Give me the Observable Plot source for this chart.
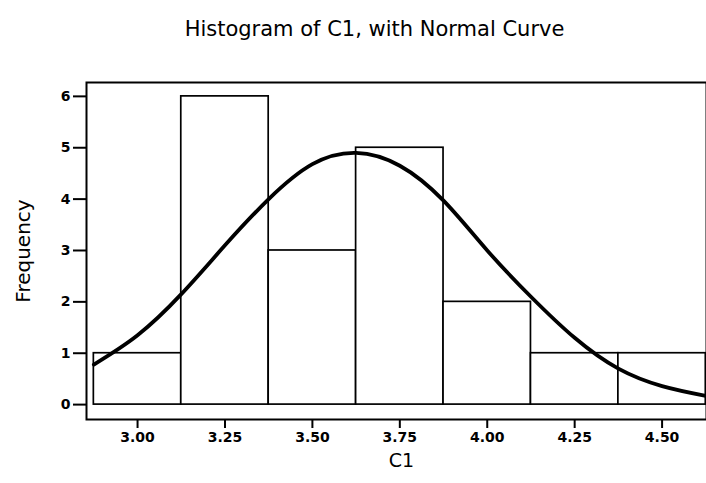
<!DOCTYPE html>
<html>
<head>
<meta charset="utf-8">
<script src="https://cdn.jsdelivr.net/npm/d3@7"></script>
<script src="https://cdn.jsdelivr.net/npm/@observablehq/plot@0.6"></script>
<style>
  html, body { margin: 0; padding: 0; background: #fff; }
  svg { display: block; }
</style>
</head>
<body>
<div id="chart"></div>
<script>
// Histogram bins (C1)
const binStart = [2.875, 3.125, 3.375, 3.625, 3.875, 4.125, 4.375];
const binEnd   = [3.125, 3.375, 3.625, 3.875, 4.125, 4.375, 4.625];
const counts   = [1, 6, 3, 5, 2, 1, 1];

// Normal curve
const curveX = [2.875, 3.0, 3.125, 3.25, 3.375, 3.5, 3.625, 3.75, 3.875, 4.0, 4.125, 4.25, 4.375, 4.5, 4.625];
const curveY = [0.78, 1.35, 2.15, 3.1, 4.0, 4.68, 4.9, 4.65, 3.97, 3.0, 2.1, 1.3, 0.7, 0.36, 0.17];

const xTicks = [3.00, 3.25, 3.50, 3.75, 4.00, 4.25, 4.50];
const yTicks = [0, 1, 2, 3, 4, 5, 6];

const titleText = "Histogram of C1, with Normal Curve";
const xLabel = "C1";
const yLabel = "Frequency";

const bins = binStart.map((s, i) => ({x1: s, x2: binEnd[i], count: counts[i]}));
const curve = curveX.map((x, i) => ({x, y: curveY[i]}));

const font = "'DejaVu Sans', Verdana, sans-serif";

const chart = Plot.plot({
  width: 706,
  height: 483,
  marginLeft: 86,
  marginRight: 0,
  marginTop: 82,
  marginBottom: 64,
  style: {fontFamily: font, fontSize: "14px", color: "#000", background: "#fff"},
  x: {domain: [2.854, 4.627]},
  y: {domain: [-0.29, 6.27]},
  marks: [
    Plot.rectY(bins, {x1: "x1", x2: "x2", y: "count", fill: "white", stroke: "black", strokeWidth: 1.7}),
    Plot.line(curve, {x: "x", y: "y", curve: "natural", stroke: "black", strokeWidth: 3.8}),
    Plot.frame({stroke: "black", strokeWidth: 2}),
    Plot.axisX({ticks: xTicks, tickFormat: d => d.toFixed(2), tickSize: 9, tickPadding: 4, label: null, strokeWidth: 2, fontSize: 14, fontWeight: "bold", fill: "black"}),
    Plot.axisY({ticks: yTicks, tickFormat: d => String(d), tickSize: 13, tickPadding: 3, label: null, strokeWidth: 2, fontSize: 14, fontWeight: "bold", fill: "black"}),
    Plot.text([titleText], {frameAnchor: "top", dx: -22, dy: -61, fontSize: 21, fill: "black"}),
    Plot.text([yLabel], {frameAnchor: "left", textAnchor: "middle", dx: -63, rotate: -90, fontSize: 20, fill: "black"}),
    Plot.text([xLabel], {frameAnchor: "bottom", dx: 5, dy: 47, fontSize: 19, fill: "black"})
  ]
});
document.getElementById("chart").appendChild(chart);
</script>
</body>
</html>
